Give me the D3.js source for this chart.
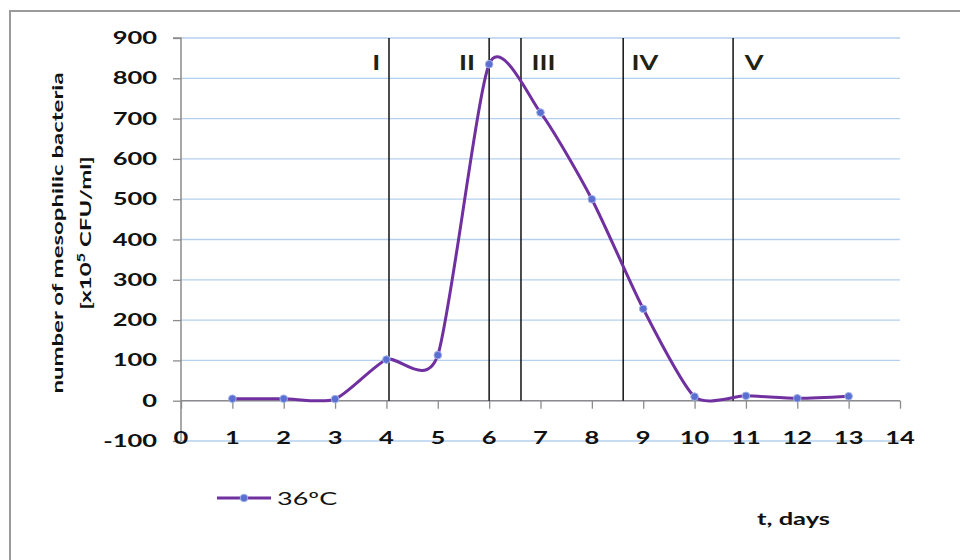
<!DOCTYPE html>
<html><head><meta charset="utf-8">
<script src="https://cdn.jsdelivr.net/npm/d3@7"></script>
<style>body{margin:0;background:#fff}svg{display:block}</style>
</head><body>
<svg id="c" width="960" height="560"></svg>
<script>
const days = [1,2,3,4,5,6,7,8,9,10,11,12,13];
const counts = [5,5,4,102,113,835,715,500,228,10,12,6,11];
const yTicks = [-100,0,100,200,300,400,500,600,700,800,900];
const xTicks = [0,1,2,3,4,5,6,7,8,9,10,11,12,13,14];
const phaseBounds = [4.05,6.0,6.62,8.61,10.75];
const phaseLabels = ["I","II","III","IV","V"];
const phaseLabelX = [3.8,5.57,7.06,9.03,11.16];
const seriesName = "36ºC";

const svg = d3.select("#c");
const font = "Lato, 'Open Sans', sans-serif";
const SX = 1.5; // horizontal stretch of the reference's text
const x = d3.scaleLinear().domain([0,14]).range([181,900]);
const y = d3.scaleLinear().domain([-100,900]).range([441,38]);

function stretchedText(g, tx, ty, s, opts) {
  return g.append("text")
    .attr("transform", `translate(${tx},${ty}) scale(${opts.sx||SX},1)`)
    .attr("font-family", font).attr("font-size", opts.size)
    .attr("font-weight", opts.bold ? "bold" : "normal")
    .attr("text-anchor", opts.anchor || "start").attr("fill", opts.fill || "#111")
    .text(s);
}

// outer border
svg.append("path").attr("d","M10,560 V11 H960").attr("fill","none").attr("stroke","#9a9a9a").attr("stroke-width",2);

// gridlines
svg.append("g").selectAll("line").data(yTicks).join("line")
  .attr("x1",x(0)).attr("x2",x(14)).attr("y1",d=>y(d)).attr("y2",d=>y(d))
  .attr("stroke","#b5d0ee").attr("stroke-width",1.3);

// y axis
const ya = svg.append("g").attr("transform",`translate(${x(0)},0)`)
  .call(d3.axisLeft(y).tickValues(yTicks).tickSize(8).tickFormat(""));
ya.select(".domain").attr("stroke","#8c8c8c").attr("stroke-width",1.5).attr("d",`M-8,${y(900)}H0V${y(-100)}`);
ya.selectAll(".tick line").attr("stroke","#8c8c8c").attr("stroke-width",1.3);
const yl = svg.append("g");
yTicks.forEach(v => stretchedText(yl, 157, y(v)+6, String(v), {size:17, bold:true, anchor:"end"}));

// x axis at y=0
const xa = svg.append("g").attr("transform",`translate(0,${y(0)})`)
  .call(d3.axisBottom(x).tickValues(xTicks).tickSize(8).tickFormat(""));
xa.select(".domain").attr("stroke","#8c8c8c").attr("stroke-width",1.5).attr("d",`M${x(0)},0H${x(14)}`);
xa.selectAll(".tick line").attr("stroke","#8c8c8c").attr("stroke-width",1.3);
const xl = svg.append("g");
xTicks.forEach(v => stretchedText(xl, x(v), y(-100)+3, String(v), {size:17, bold:true, anchor:"middle"}));

// phase lines
svg.append("g").selectAll("line").data(phaseBounds).join("line")
  .attr("x1",d=>x(d)).attr("x2",d=>x(d)).attr("y1",y(900)).attr("y2",y(0))
  .attr("stroke","#111").attr("stroke-width",1.5);
const pl = svg.append("g");
phaseLabels.forEach((s,i) => stretchedText(pl, x(phaseLabelX[i]), 70, s, {size:20, bold:true, anchor:"middle", sx:1.35, fill:"#221"}));

// series
const pts = days.map((d,i)=>[d,counts[i]]);
const line = d3.line().x(d=>x(d[0])).y(d=>y(d[1])).curve(d3.curveCardinal.tension(0.3));
svg.append("path").datum(pts).attr("d",line).attr("fill","none")
  .attr("stroke","#7030a0").attr("stroke-width",3);
svg.append("g").selectAll("circle").data(pts).join("circle")
  .attr("cx",d=>x(d[0])).attr("cy",d=>y(d[1])).attr("r",3.8)
  .attr("fill","#5b6fd0").attr("stroke","#9fb2ea").attr("stroke-width",1);

// y title
svg.append("text").attr("transform",`translate(63,233) rotate(-90) scale(${SX},1)`)
  .attr("font-family",font).attr("font-weight","bold").attr("font-size",16).attr("fill","#111")
  .attr("text-anchor","middle").text("number of mesophilic  bacteria");
const yt2 = svg.append("text").attr("transform",`translate(91,233) rotate(-90) scale(${SX},1)`)
  .attr("font-family",font).attr("font-weight","bold").attr("font-size",16).attr("fill","#111")
  .attr("text-anchor","middle");
yt2.append("tspan").text("[x10");
yt2.append("tspan").attr("dy",-6).attr("font-size",11).text("5");
yt2.append("tspan").attr("dy",6).text(" CFU/ml]");

// legend
svg.append("line").attr("x1",217).attr("x2",271).attr("y1",498).attr("y2",498)
  .attr("stroke","#7030a0").attr("stroke-width",3);
svg.append("circle").attr("cx",244).attr("cy",498).attr("r",3.8)
  .attr("fill","#5b6fd0").attr("stroke","#9fb2ea").attr("stroke-width",1);
stretchedText(svg, 277, 505, seriesName, {size:18, bold:false});

stretchedText(svg, 757, 525, "t, days", {size:17, bold:true});
</script>
</body></html>
